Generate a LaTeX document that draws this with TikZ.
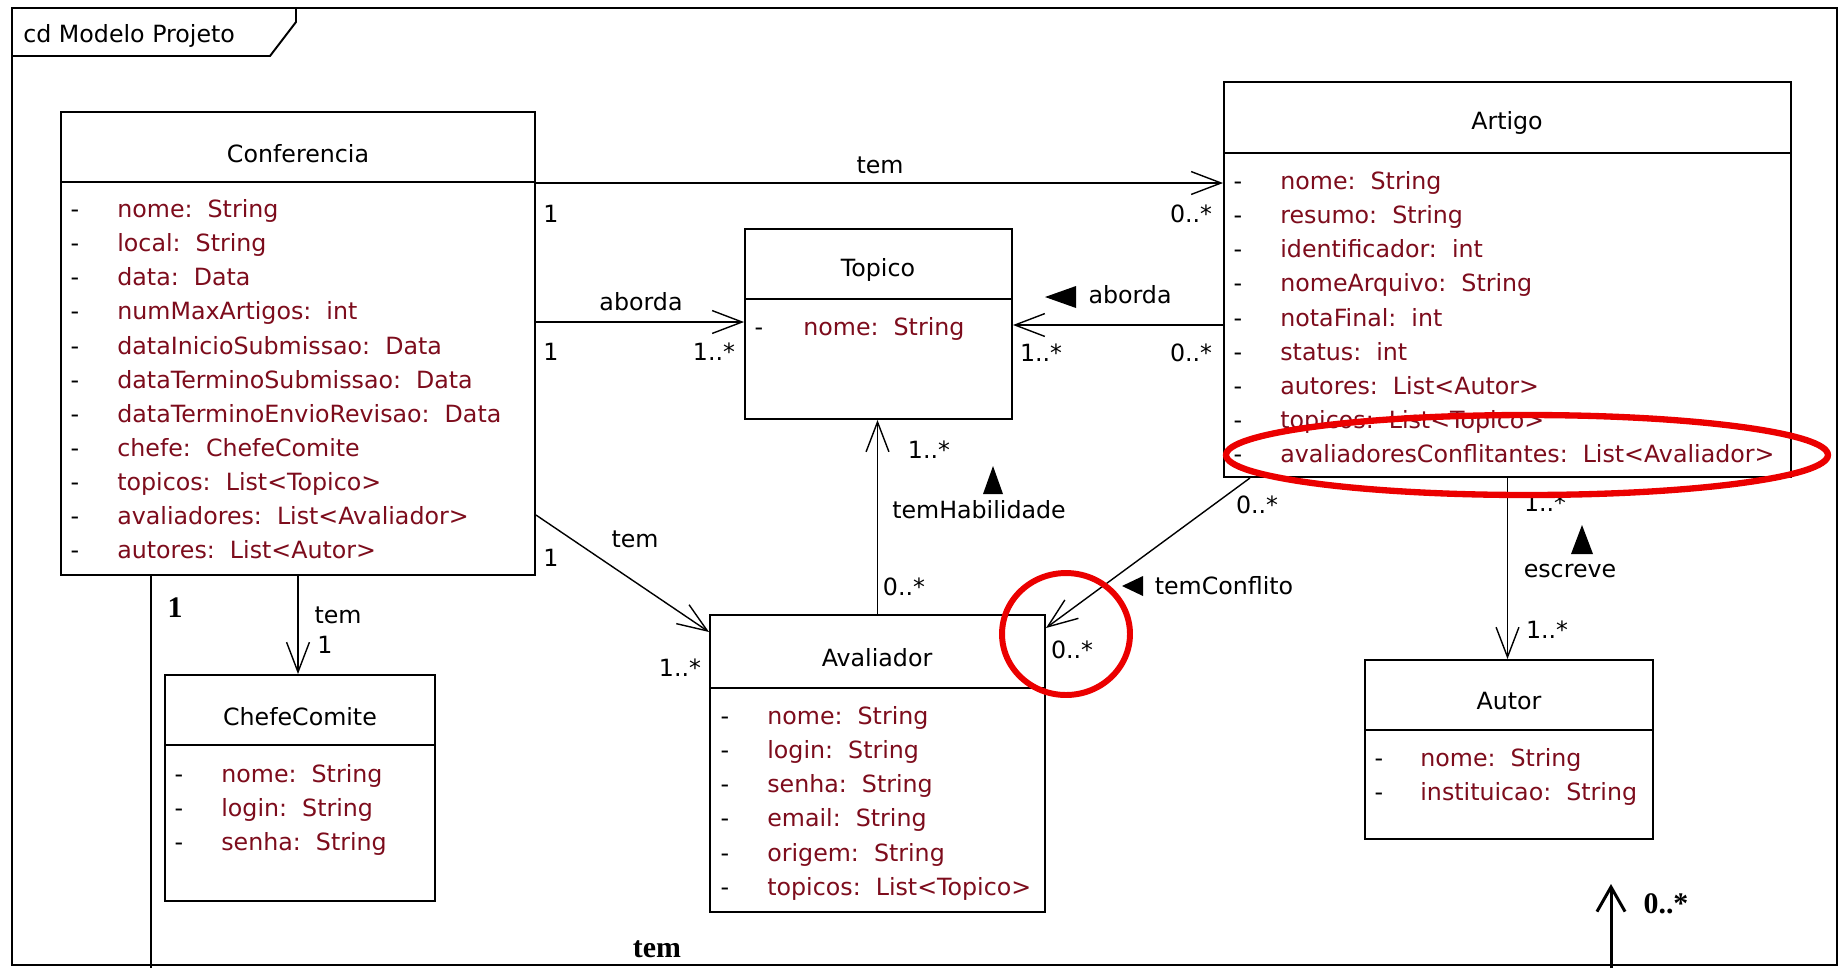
\documentclass[tikz,border=0pt]{standalone}
\usepackage{fontspec}
\setmainfont{DejaVu Sans}
\newfontfamily\notefont{Liberation Serif}
\usetikzlibrary{arrows.meta,fit}
\definecolor{attrred}{RGB}{125,12,28}
\definecolor{markred}{RGB}{235,0,0}
\newcommand{\umlfont}{\fontsize{13.5}{16}\selectfont}

\begin{document}
\begin{tikzpicture}[x=0.02cm,y=-0.02cm]
\tikzstyle{every node}+=[inner sep=0pt]
\tikzstyle{umlbox}=[draw, line width=1.1pt]
\tikzstyle{classname}=[font=\umlfont, yshift=-3.5pt]
\tikzstyle{attr}=[font=\umlfont, text=attrred, anchor=west, text height=10pt, text depth=3pt, yshift=-2pt]
\tikzstyle{vis}=[font=\umlfont, text height=10pt, text depth=3pt, yshift=-2pt]
\tikzstyle{mult}=[font=\umlfont, text height=10pt, text depth=3pt, yshift=-1.5pt]
\tikzstyle{assoc}=[line width=0.8pt, -{Straight Barb[length=17pt,width=13pt]}]
\tikzstyle{note}=[font=\notefont\bfseries\fontsize{17}{19}\selectfont, yshift=-2pt]
\useasboundingbox (0,0) rectangle (1845,968);
\fill[white] (0,0) rectangle (1845,968);

\draw [black, line width=1.1pt] (12,8) rectangle (1837,965);
\draw [black, line width=1.1pt] (12,56) -- (270,56) -- (296,22) -- (296,8);
\node[classname, anchor=west] (frametitle) at (23,30) {cd Modelo Projeto};

\node[umlbox, fit={(61,112) (535,575)}] (conf) {};
\draw [black, line width=1.1pt] (61,182) -- (535,182);
\node[classname] (confname) at (298,147) {Conferencia};
\foreach \a/\b [count=\i] in {nome/String, local/String, data/Data, numMaxArtigos/int,
  dataInicioSubmissao/Data, dataTerminoSubmissao/Data, dataTerminoEnvioRevisao/Data,
  chefe/ChefeComite, topicos/List<Topico>, avaliadores/List<Avaliador>, autores/List<Autor>} {
  \node[vis] (confv\i) at (75,{208+(\i-1)*34.1}) {-};
  \node[attr] (confa\i) at (117,{208+(\i-1)*34.1}) {\a:\ \ \b};
}

\node[umlbox, fit={(745,229) (1012,419)}] (top) {};
\draw [black, line width=1.1pt] (745,299) -- (1012,299);
\node[classname] (topname) at (878,264) {Topico};
\node[vis] (topv1) at (759,326) {-};
\node[attr] (topa1) at (803,326) {nome:\ \ String};

\node[umlbox, fit={(1224,82) (1791,477)}] (art) {};
\draw [black, line width=1.1pt] (1224,153) -- (1791,153);
\node[classname] (artname) at (1507,117) {Artigo};
\foreach \a/\b [count=\i] in {nome/String, resumo/String, identificador/int, nomeArquivo/String,
  notaFinal/int, status/int, autores/List<Autor>, topicos/List<Topico>,
  avaliadoresConflitantes/List<Avaliador>} {
  \node[vis] (artv\i) at (1238,{180+(\i-1)*34.1}) {-};
  \node[attr] (arta\i) at (1280,{180+(\i-1)*34.1}) {\a:\ \ \b};
}

\node[umlbox, fit={(710,615) (1045,912)}] (aval) {};
\draw [black, line width=1.1pt] (710,688) -- (1045,688);
\node[classname] (avalname) at (877,651) {Avaliador};
\foreach \a/\b [count=\i] in {nome/String, login/String, senha/String, email/String,
  origem/String, topicos/List<Topico>} {
  \node[vis] (avalv\i) at (725,{715+(\i-1)*34.1}) {-};
  \node[attr] (avala\i) at (767,{715+(\i-1)*34.1}) {\a:\ \ \b};
}

\node[umlbox, fit={(165,675) (435,901)}] (chefe) {};
\draw [black, line width=1.1pt] (165,745) -- (435,745);
\node[classname] (chefename) at (300,710) {ChefeComite};
\foreach \a/\b [count=\i] in {nome/String, login/String, senha/String} {
  \node[vis] (chefev\i) at (179,{773+(\i-1)*34.1}) {-};
  \node[attr] (chefea\i) at (221,{773+(\i-1)*34.1}) {\a:\ \ \b};
}

\node[umlbox, fit={(1365,660) (1653,839)}] (autor) {};
\draw [black, line width=1.1pt] (1365,730) -- (1653,730);
\node[classname] (autorname) at (1509,695) {Autor};
\foreach \a/\b [count=\i] in {nome/String, instituicao/String} {
  \node[vis] (autorv\i) at (1379,{757+(\i-1)*34.1}) {-};
  \node[attr] (autora\i) at (1420,{757+(\i-1)*34.1}) {\a:\ \ \b};
}

\draw [assoc] (conf.east |- 0,183) -- (art.west |- 0,183);
\node[mult] (l1) at (880,165) {tem};
\node[mult] (m1a) at (551,214) {1};
\node[mult] (m1b) at (1191,214) {0..*};

\draw [assoc] (conf.east |- 0,322) -- (top.west |- 0,322);
\node[mult] (l2) at (641,302) {aborda};
\node[mult] (m2a) at (551,352) {1};
\node[mult] (m2b) at (714,352) {1..*};

\draw [assoc] (art.west |- 0,325) -- (top.east |- 0,325);
\fill [black] (1045,297) -- (1076,286) -- (1076,308) -- cycle;
\node[mult] (l3) at (1130,295) {aborda};
\node[mult] (m3a) at (1041,353) {1..*};
\node[mult] (m3b) at (1191,353) {0..*};

\draw [assoc] (aval.north) -- (aval.north |- top.south);
\fill [black] (993,466) -- (1003,494) -- (983,494) -- cycle;
\node[mult] (l4) at (979,510) {temHabilidade};
\node[mult] (m4a) at (929,450) {1..*};
\node[mult] (m4b) at (904,587) {0..*};

\draw [assoc] (conf.east |- 0,515) -- (aval.west |- 0,632);
\node[mult] (l5) at (635,539) {tem};
\node[mult] (m5a) at (551,558) {1};
\node[mult] (m5b) at (680,668) {1..*};

\draw [assoc] (art.south -| 1250,0) -- (aval.east |- 0,628);
\fill [black] (1122,586) -- (1143,576) -- (1143,596) -- cycle;
\node[mult] (l6) at (1224,586) {temConflito};
\node[mult] (m6a) at (1257,505) {0..*};
\node[mult] (m6b) at (1072,650) {0..*};

\draw [assoc] (art.south) -- (art.south |- autor.north);
\fill [black] (1582,525) -- (1593,554) -- (1571,554) -- cycle;
\node[mult] (l7) at (1570,569) {escreve};
\node[mult] (m7a) at (1545,503) {1..*};
\node[mult] (m7b) at (1547,630) {1..*};

\draw [assoc] (conf.south) -- (conf.south |- chefe.north);
\node[mult] (l8) at (338,615) {tem};
\node[mult] (m8) at (325,645) {1};

\coordinate (confdown) at (151,968);
\coordinate (autorup) at (1611,968);
\coordinate (autortip) at (1611,884);
\draw [black, line width=1.7pt] (conf.south -| confdown) -- (confdown);
\draw [black, line width=1.7pt, -{Straight Barb[length=14pt,width=16pt]}] (autorup) -- (autortip);
\node[note] (n1) at (175,604) {1};
\node[note] (n2) at (657,946) {tem};
\node[note] (n3) at (1666,900) {0..*};

\draw [markred, line width=3.6pt] (1527,455) ellipse [x radius=6.02cm, y radius=0.8cm];
\draw [markred, line width=3.4pt] (1066,634) ellipse [x radius=1.28cm, y radius=1.22cm];
\end{tikzpicture}
\end{document}
